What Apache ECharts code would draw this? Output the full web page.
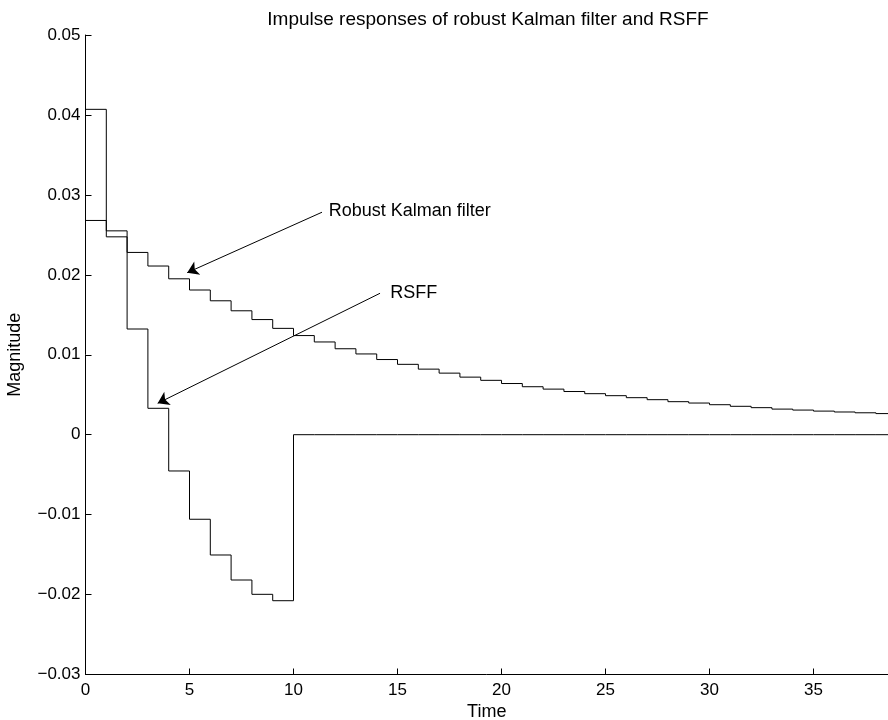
<!DOCTYPE html>
<html>
<head>
<meta charset="utf-8">
<title>Impulse responses</title>
<script src="https://cdn.jsdelivr.net/npm/echarts@6/dist/echarts.min.js"></script>
<style>
  html, body { margin: 0; padding: 0; background: #fff; }
  #chart { width: 888px; height: 720px; }
</style>
</head>
<body>
<div id="chart"></div>
<script>
  // impulse response samples, one per time step (k = 0, 1, 2, ...)
  var kalman = [
    0.0268, 0.0255, 0.0228, 0.0211, 0.0195, 0.0181, 0.01675, 0.0155, 0.0144, 0.0133,
    0.0124, 0.0116, 0.01075, 0.0101, 0.0094, 0.0088, 0.0082, 0.0077, 0.0072, 0.0068,
    0.0064, 0.0060, 0.0057, 0.0054, 0.00513, 0.00488, 0.00463, 0.00438, 0.00413, 0.00396,
    0.00375, 0.00355, 0.00338, 0.0032, 0.00308, 0.00295, 0.00284, 0.00274, 0.00264, 0.00256
  ]
  var rsff = [
    0.0407, 0.02475, 0.01322, 0.0033, -0.00454, -0.01058, -0.01505, -0.01818, -0.01997, -0.02077,
    0, 0, 0, 0, 0, 0, 0, 0, 0, 0,
    0, 0, 0, 0, 0, 0, 0, 0, 0, 0,
    0, 0, 0, 0, 0, 0, 0, 0, 0, 0
  ]
  var xTicks = [0, 5, 10, 15, 20, 25, 30, 35]

  // arrows: label, text position, arrow tail, arrow tip (data units)
  var notes = [
    { text: 'Robust Kalman filter', at: [11.69, 0.0280], from: [11.37, 0.02783], to: [4.89, 0.02027] },
    { text: 'RSFF', at: [14.65, 0.01769], from: [14.16, 0.01769], to: [3.47, 0.00393] }
  ]

  // [k, value, next value] for stairs drawing
  function stairs(arr) {
    return arr.map(function(v, i) {
      return [i, v, i + 1 < arr.length ? arr[i + 1] : v]
    })
  }

  function renderStair(params, api) {
    var x = api.value(0)
    var y = api.value(1)
    var yn = api.value(2)
    var p0 = api.coord([x, y])
    var p1 = api.coord([x + 1, y])
    var p2 = api.coord([x + 1, yn])
    return {
      type: 'polyline',
      shape: { points: [p0, p1, p2] },
      style: { stroke: '#000', lineWidth: 1, fill: null }
    }
  }

  function tickText(v) {
    if (Math.abs(v) < 1e-9) return '0'
    var s = Math.abs(v).toFixed(2)
    return (v < 0 ? '\u2212' : '') + s
  }

  var font = '"Liberation Sans", Arial, Helvetica, sans-serif'
  var chart = echarts.init(document.getElementById('chart'))

  chart.setOption({
    animation: false,
    backgroundColor: '#fff',
    title: {
      text: 'Impulse responses of robust Kalman filter and RSFF',
      left: 483,
      top: 5,
      textAlign: 'center',
      textStyle: { fontFamily: font, fontSize: 19, fontWeight: 'normal', color: '#000' }
    },
    grid: { left: 85.5, right: 0, top: 35, bottom: 45.5, containLabel: false, outerBoundsMode: 'none' },
    xAxis: {
      type: 'value',
      min: 0,
      max: 38.58,
      interval: 5,
      name: 'Time',
      nameLocation: 'middle',
      nameGap: 25,
      nameTextStyle: { fontFamily: font, fontSize: 18, color: '#000' },
      axisLine: { onZero: false, lineStyle: { color: '#000', width: 1 } },
      axisTick: { inside: true, length: 6, lineStyle: { color: '#000' } },
      axisLabel: {
        fontFamily: font, fontSize: 17, color: '#000', margin: 7,
        showMaxLabel: false,
        formatter: function(v) { return xTicks.indexOf(v) >= 0 ? String(v) : '' }
      },
      splitLine: { show: false }
    },
    yAxis: {
      type: 'value',
      min: -0.03,
      max: 0.05,
      interval: 0.01,
      name: 'Magnitude',
      nameLocation: 'middle',
      nameGap: 61,
      nameTextStyle: { fontFamily: font, fontSize: 18, color: '#000' },
      axisLine: { show: true, onZero: false, lineStyle: { color: '#000', width: 1 } },
      axisTick: { show: true, inside: true, length: 6, lineStyle: { color: '#000' } },
      axisLabel: { fontFamily: font, fontSize: 17, color: '#000', margin: 5, formatter: tickText },
      splitLine: { show: false }
    },
    series: [
      {
        name: 'Robust Kalman filter',
        type: 'custom',
        clip: true,
        renderItem: renderStair,
        encode: { x: 0, y: 1 },
        data: stairs(kalman)
      },
      {
        name: 'RSFF',
        type: 'custom',
        clip: true,
        renderItem: renderStair,
        encode: { x: 0, y: 1 },
        data: stairs(rsff)
      },
      {
        name: 'arrows',
        type: 'line',
        data: [],
        markLine: {
          silent: true,
          symbol: ['none', 'arrow'],
          symbolSize: 11,
          label: { show: false },
          lineStyle: { color: '#000', width: 1, type: 'solid' },
          itemStyle: { color: '#000' },
          data: notes.map(function(n) {
            return [{ coord: n.from }, { coord: n.to }]
          })
        }
      }
    ]
  })

  // text labels beside the arrows, placed through the axes
  chart.setOption({
    graphic: notes.map(function(n) {
      var p = chart.convertToPixel({ gridIndex: 0 }, n.at)
      return {
        type: 'text',
        x: p[0],
        y: p[1],
        style: {
          text: n.text,
          fontFamily: font,
          fontSize: 18,
          fill: '#000',
          verticalAlign: 'middle'
        }
      }
    })
  })
</script>
</body>
</html>
